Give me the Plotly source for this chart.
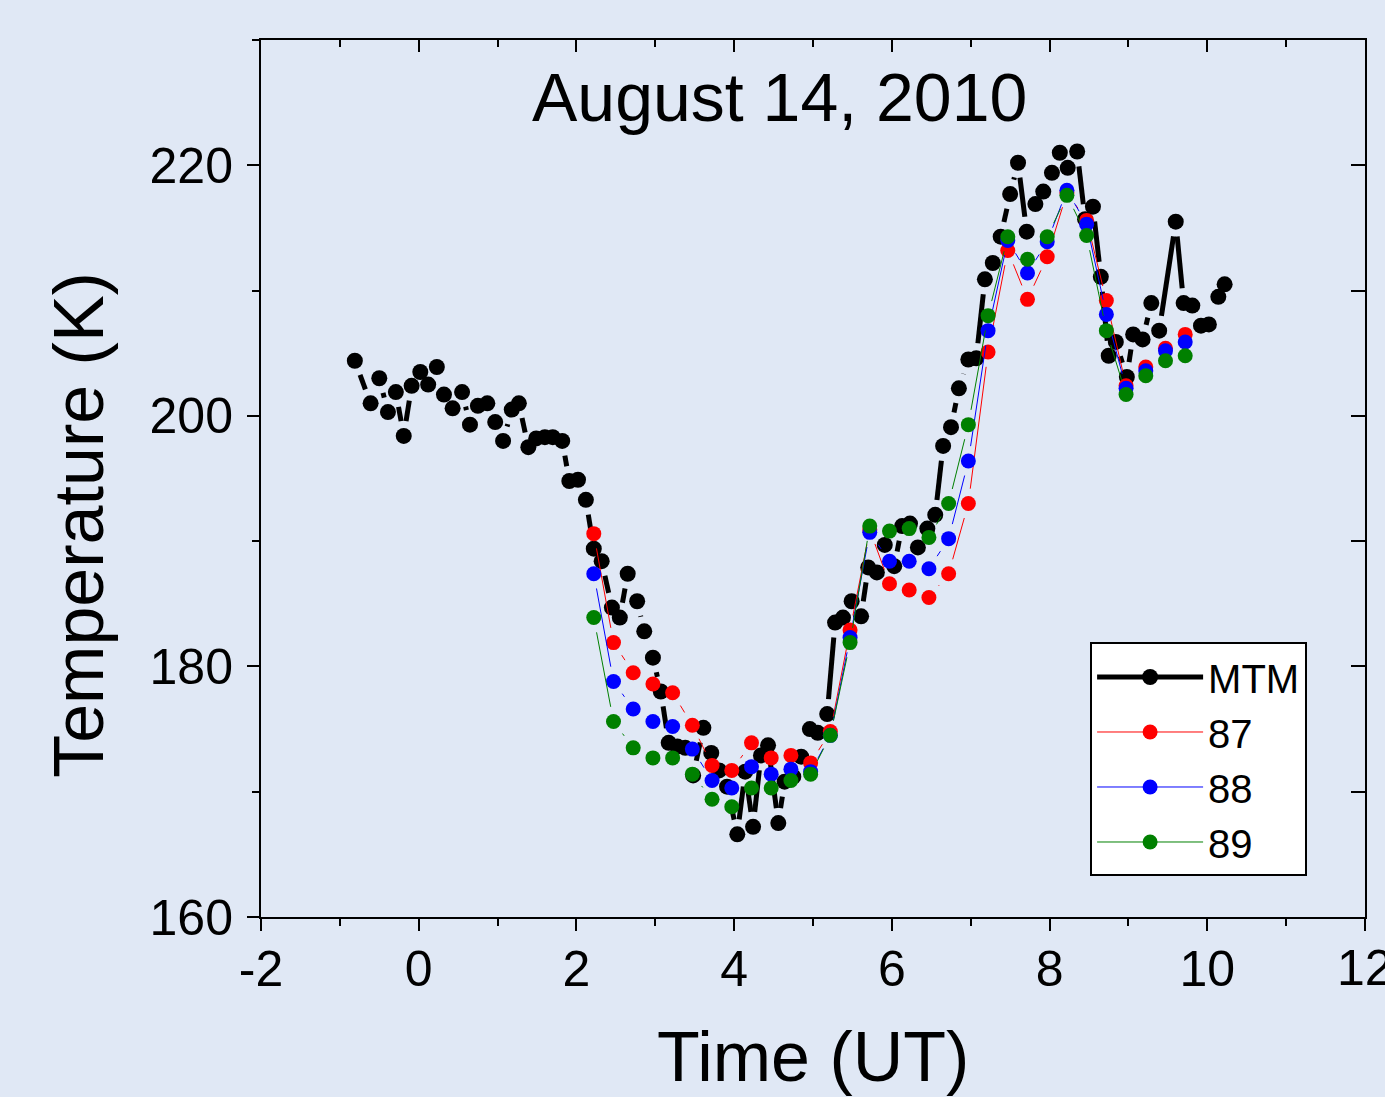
import math
import plotly.graph_objects as go

# MTM data (time in UT hours, temperature in K)
mtm_time = [-0.81, -0.61, -0.50, -0.39, -0.29, -0.19, -0.09, 0.02, 0.12, 0.23,
            0.32, 0.43, 0.55, 0.65, 0.75, 0.87, 0.97, 1.07, 1.18, 1.27,
            1.39, 1.49, 1.60, 1.70, 1.82, 1.91, 2.02, 2.12, 2.22, 2.32,
            2.45, 2.55, 2.65, 2.77, 2.86, 2.97, 3.07, 3.17, 3.28, 3.38,
            3.48, 3.61, 3.71, 3.81, 3.91, 4.04, 4.14, 4.24, 4.34, 4.43,
            4.56, 4.64, 4.75, 4.85, 4.96, 5.06, 5.18, 5.28, 5.38, 5.49,
            5.61, 5.70, 5.81, 5.91, 6.03, 6.13, 6.23, 6.33, 6.45, 6.55,
            6.65, 6.75, 6.85, 6.97, 7.07, 7.18, 7.28, 7.38, 7.50, 7.60,
            7.71, 7.82, 7.92, 8.03, 8.13, 8.23, 8.35, 8.45, 8.55, 8.65,
            8.75, 8.84, 8.98, 9.06, 9.18, 9.29, 9.39, 9.60, 9.70, 9.81,
            9.92, 10.02, 10.14, 10.22]
mtm_temp = [204.4, 201.0, 203.0, 200.3, 201.9, 198.4, 202.4, 203.5, 202.5, 203.9,
            201.7, 200.6, 201.9, 199.3, 200.8, 201.0, 199.5, 198.0, 200.5, 201.0,
            197.5, 198.2, 198.3, 198.3, 198.0, 194.8, 194.9, 193.3, 189.4, 188.4,
            184.7, 183.9, 187.4, 185.2, 182.8, 180.7, 178.0, 173.9, 173.6, 173.5,
            171.3, 175.1, 173.1, 171.7, 170.4, 166.6, 171.6, 167.2, 172.9, 173.7,
            167.5, 170.8, 171.2, 172.8, 175.0, 174.7, 176.2, 183.5, 183.9, 185.2,
            184.0, 187.9, 187.5, 189.7, 188.0, 191.2, 191.4, 189.5, 191.0, 192.1,
            197.6, 199.1, 202.2, 204.5, 204.6, 210.9, 212.2, 214.3, 217.7, 220.2,
            214.7, 216.9, 217.9, 219.4, 221.0, 219.8, 221.1, 215.7, 216.7, 211.1,
            204.8, 205.9, 203.1, 206.5, 206.1, 209.0, 206.8, 215.5, 209.0, 208.8,
            207.2, 207.3, 209.5, 210.5]

# Model series (every 0.25 h)
model_time = [2.22, 2.47, 2.72, 2.97, 3.22, 3.47, 3.72, 3.97, 4.22, 4.47,
              4.72, 4.97, 5.22, 5.47, 5.72, 5.97, 6.22, 6.47, 6.72, 6.97,
              7.22, 7.47, 7.72, 7.97, 8.22, 8.47, 8.72, 8.97, 9.22, 9.47, 9.72]
temp_87 = [190.6, 181.9, 179.5, 178.6, 177.9, 175.3, 172.1, 171.7, 173.9, 172.7,
           172.9, 172.3, 174.8, 182.9, 190.9, 186.6, 186.1, 185.5, 187.4, 193.0,
           205.1, 213.2, 209.3, 212.7, 217.8, 215.6, 209.2, 202.4, 203.9, 205.4, 206.5]
temp_88 = [187.4, 178.8, 176.6, 175.6, 175.2, 173.4, 170.9, 170.3, 172.0, 171.4,
           171.8, 171.6, 174.5, 182.3, 190.7, 188.4, 188.4, 187.8, 190.2, 196.4,
           206.8, 214.0, 211.4, 213.9, 218.0, 215.3, 208.1, 202.2, 203.6, 205.2, 205.9]
temp_89 = [183.9, 175.6, 173.5, 172.7, 172.7, 171.4, 169.4, 168.8, 170.3, 170.3,
           170.9, 171.4, 174.5, 181.9, 191.2, 190.8, 191.0, 190.3, 193.0, 199.3,
           208.0, 214.3, 212.5, 214.3, 217.6, 214.4, 206.8, 201.7, 203.2, 204.4, 204.8]

x_ticks = [-2, 0, 2, 4, 6, 8, 10, 12]
x_labels = ["-2", "0", "2", "4", "6", "8", "10", ""]
y_ticks = [160, 180, 200, 220]

X_RANGE = [-2, 12]
Y_RANGE = [160, 230]
W, H = 1385, 1097
M = dict(l=261, r=20, t=40, b=180)
PX_X = (W - M["l"] - M["r"]) / (X_RANGE[1] - X_RANGE[0])
PX_Y = (H - M["t"] - M["b"]) / (Y_RANGE[1] - Y_RANGE[0])

BG = "#e0e8f5"
FONT = "Liberation Sans, Arial, sans-serif"


def gapped(xs, ys, gap):
    """Origin-style connecting line with a gap around each symbol."""
    gx, gy = [], []
    for i in range(len(xs) - 1):
        dx = (xs[i + 1] - xs[i]) * PX_X
        dy = (ys[i + 1] - ys[i]) * PX_Y
        d = math.hypot(dx, dy)
        if d <= 2 * gap:
            continue
        f = gap / d
        gx += [xs[i] + (xs[i + 1] - xs[i]) * f, xs[i + 1] - (xs[i + 1] - xs[i]) * f, None]
        gy += [ys[i] + (ys[i + 1] - ys[i]) * f, ys[i + 1] - (ys[i + 1] - ys[i]) * f, None]
    return gx, gy


series = [
    ("MTM", mtm_time, mtm_temp, "black", 5, 16),
    ("87", model_time, temp_87, "#ff0000", 1, 15),
    ("88", model_time, temp_88, "#0000ff", 1, 15),
    ("89", model_time, temp_89, "#008000", 1, 15),
]

fig = go.Figure()
for name, xs, ys, col, lw, ms in series:
    gx, gy = gapped(xs, ys, 15)
    fig.add_trace(go.Scatter(x=gx, y=gy, mode="lines", line=dict(color=col, width=lw),
                             showlegend=False, hoverinfo="skip"))
    fig.add_trace(go.Scatter(x=xs, y=ys, mode="markers", name=name,
                             marker=dict(color=col, size=ms), showlegend=False))
for name, xs, ys, col, lw, ms in series:
    fig.add_trace(go.Scatter(x=[None], y=[None], mode="lines+markers", name=name,
                             line=dict(color=col, width=lw),
                             marker=dict(color=col, size=ms), showlegend=True))

# invisible trace for mirrored inward ticks (top/right)
fig.add_trace(go.Scatter(x=[X_RANGE[0]], y=[Y_RANGE[0]], xaxis="x2", yaxis="y2",
                         mode="markers", marker=dict(opacity=0), showlegend=False,
                         hoverinfo="skip"))

axis_common = dict(showgrid=False, zeroline=False, showline=True, linecolor="black",
                   linewidth=2, tickcolor="black", tickwidth=2)

fig.update_layout(
    width=W, height=H,
    paper_bgcolor=BG, plot_bgcolor=BG,
    margin=M,
    font=dict(family=FONT, color="black"),
    xaxis=dict(range=X_RANGE, tickvals=x_ticks, ticktext=x_labels, ticks="outside",
               ticklen=12, tickfont=dict(size=50), ticklabelstandoff=-5,
               minor=dict(dtick=1, tick0=-1, ticks="outside", ticklen=7,
                          tickcolor="black", tickwidth=2),
               **axis_common),
    yaxis=dict(range=Y_RANGE, tickvals=y_ticks, ticks="outside", ticklen=12,
               tickfont=dict(size=50), ticklabelstandoff=4,
               minor=dict(dtick=10, tick0=170, ticks="outside", ticklen=7,
                          tickcolor="black", tickwidth=2),
               **axis_common),
    xaxis2=dict(range=X_RANGE, overlaying="x", side="top", anchor="y2",
                tickvals=x_ticks, ticks="inside", ticklen=12, showticklabels=False,
                minor=dict(dtick=1, tick0=-1, ticks="inside", ticklen=7,
                           tickcolor="black", tickwidth=2),
                **axis_common),
    yaxis2=dict(range=Y_RANGE, overlaying="y", side="right", anchor="x2",
                tickvals=[160, 170, 180, 190, 200, 210, 220, 230], ticks="inside",
                ticklen=14, showticklabels=False,
                **axis_common),
    legend=dict(x=0.751, y=0.313, xanchor="left", yanchor="top",
                bgcolor="white", bordercolor="black", borderwidth=2,
                font=dict(size=40, family=FONT), tracegroupgap=0,
                itemwidth=106),
    showlegend=True,
)

fig.add_annotation(text="12", x=12, y=-0.058, xref="x", yref="paper", showarrow=False,
                   xanchor="center", yanchor="middle", font=dict(size=50, family=FONT))
fig.add_annotation(text="August 14, 2010", x=0.47, y=0.935, xref="paper", yref="paper",
                   showarrow=False, xanchor="center", yanchor="middle",
                   font=dict(size=68, family=FONT))
fig.add_annotation(text="Time (UT)", x=0.5, y=-0.16, xref="paper", yref="paper",
                   showarrow=False, xanchor="center", yanchor="middle",
                   font=dict(size=70, family=FONT))
fig.add_annotation(text="Temperature (K)", x=-0.165, y=0.447, xref="paper", yref="paper",
                   showarrow=False, textangle=-90, font=dict(size=70, family=FONT),
                   xanchor="center", yanchor="middle")

fig.write_html("out.html")
